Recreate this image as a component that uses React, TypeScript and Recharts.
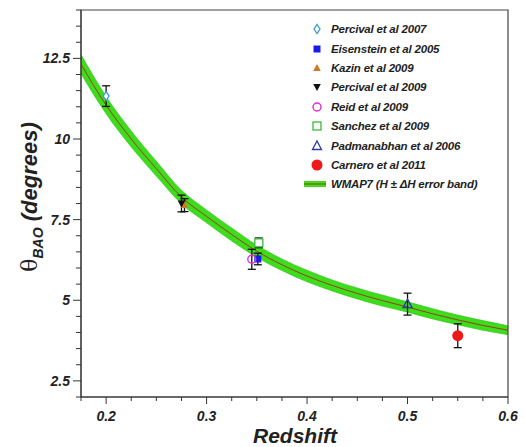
import React from 'react'
import {
  ComposedChart,
  Area,
  Line,
  Scatter,
  ErrorBar,
  XAxis,
  YAxis,
  Legend,
  ReferenceArea,
} from 'recharts'

// WMAP7 theoretical curve
const curveZ = [0.175, 0.2, 0.225, 0.25, 0.275, 0.3, 0.325, 0.35, 0.375, 0.4, 0.425, 0.45, 0.475, 0.5, 0.525, 0.55, 0.575, 0.6]
const curveTheta = [12.32, 11.05, 10.0, 9.08, 8.2, 7.6, 7.04, 6.52, 6.1, 5.75, 5.46, 5.21, 4.99, 4.79, 4.58, 4.39, 4.22, 4.07]
const bandLow = [12.02, 10.78, 9.75, 8.85, 7.99, 7.4, 6.84, 6.33, 5.92, 5.57, 5.29, 5.04, 4.82, 4.63, 4.42, 4.24, 4.07, 3.93]
const bandHigh = [12.62, 11.32, 10.25, 9.31, 8.41, 7.8, 7.24, 6.71, 6.28, 5.93, 5.63, 5.38, 5.16, 4.95, 4.74, 4.54, 4.37, 4.21]

// measurements
const percival07 = [{ z: 0.2, theta: 11.33, err: 0.32 }]
const eisenstein05 = [{ z: 0.351, theta: 6.28, err: 0.18 }]
const kazin09 = [{ z: 0.278, theta: 7.95, err: 0.2 }]
const percival09 = [{ z: 0.275, theta: 8.0, err: 0.26 }]
const reid09 = [{ z: 0.345, theta: 6.27, err: 0.31 }]
const sanchez09 = [{ z: 0.352, theta: 6.78, err: 0.15 }]
const padmanabhan06 = [{ z: 0.5, theta: 4.88, err: 0.34 }]
const carnero11 = [{ z: 0.55, theta: 3.9, err: 0.37 }]

const xTicks = [0.175, 0.2, 0.225, 0.25, 0.275, 0.3, 0.325, 0.35, 0.375, 0.4, 0.425, 0.45, 0.475, 0.5, 0.525, 0.55, 0.575, 0.6]
const yTicks = [2, 2.5, 3, 3.5, 4, 4.5, 5, 5.5, 6, 6.5, 7, 7.5, 8, 8.5, 9, 9.5, 10, 10.5, 11, 11.5, 12, 12.5, 13, 13.5, 14]

const curveRows = curveZ.map((z, i) => ({
  z,
  theta: curveTheta[i],
  band: [bandLow[i], bandHigh[i]],
}))

const FONT = '"Liberation Sans", Arial, sans-serif'
const GREEN = '#3ddc1c'
const RED_LINE = '#9e3c1a'

type Kind = 'diamond-open' | 'square' | 'tri-up' | 'tri-down' | 'circle-open' | 'square-open' | 'tri-open' | 'circle' | 'band'

const series: { name: string; kind: Kind; color: string; data?: any[] }[] = [
  { name: 'Percival et al 2007', kind: 'diamond-open', color: '#3a9bd8', data: percival07 },
  { name: 'Eisenstein et al 2005', kind: 'square', color: '#1a1ae6', data: eisenstein05 },
  { name: 'Kazin et al 2009', kind: 'tri-up', color: '#c97b2a', data: kazin09 },
  { name: 'Percival et al 2009', kind: 'tri-down', color: '#111111', data: percival09 },
  { name: 'Reid et al 2009', kind: 'circle-open', color: '#e02ad8', data: reid09 },
  { name: 'Sanchez et al 2009', kind: 'square-open', color: '#3cb83c', data: sanchez09 },
  { name: 'Padmanabhan et al 2006', kind: 'tri-open', color: '#2a3aa8', data: padmanabhan06 },
  { name: 'Carnero et al 2011', kind: 'circle', color: '#ee1a1a', data: carnero11 },
]

function Marker({ cx, cy, kind, color }: { cx: number; cy: number; kind: Kind; color: string }) {
  switch (kind) {
    case 'diamond-open':
      return <polygon points={`${cx},${cy - 4.5} ${cx + 3},${cy} ${cx},${cy + 4.5} ${cx - 3},${cy}`} fill="#fff" stroke={color} strokeWidth={1.3} />
    case 'square':
      return <rect x={cx - 3.5} y={cy - 3.5} width={7} height={7} fill={color} />
    case 'tri-up':
      return <polygon points={`${cx},${cy - 4} ${cx + 3.8},${cy + 3} ${cx - 3.8},${cy + 3}`} fill={color} />
    case 'tri-down':
      return <polygon points={`${cx},${cy + 4} ${cx + 3.8},${cy - 3} ${cx - 3.8},${cy - 3}`} fill={color} />
    case 'circle-open':
      return <circle cx={cx} cy={cy} r={4} fill="none" stroke={color} strokeWidth={1.4} />
    case 'square-open':
      return <rect x={cx - 4} y={cy - 4} width={8} height={8} fill="#fff" stroke={color} strokeWidth={1.3} />
    case 'tri-open':
      return <polygon points={`${cx},${cy - 5} ${cx + 4.5},${cy + 3.5} ${cx - 4.5},${cy + 3.5}`} fill="none" stroke={color} strokeWidth={1.3} />
    case 'circle':
      return <circle cx={cx} cy={cy} r={5.5} fill={color} />
    default:
      return null
  }
}

function YTick(props: any) {
  const { x, y, payload } = props
  const v = payload.value as number
  const major = Math.abs(v / 2.5 - Math.round(v / 2.5)) < 1e-6
  return (
    <g>
      <line x1={x} x2={x - (major ? 8 : 5)} y1={y} y2={y} stroke="#333" strokeWidth={1} />
      {major && v > 2 && v < 14 && (
        <text x={x - 11} y={y + 5} textAnchor="end" fontFamily={FONT} fontWeight="bold" fontStyle="italic" fontSize={14} fill="#222">
          {String(v)}
        </text>
      )}
    </g>
  )
}

function XTick(props: any) {
  const { x, y, payload } = props
  const v = payload.value as number
  const major = Math.abs(v * 10 - Math.round(v * 10)) < 1e-6
  return (
    <g>
      <line x1={x} x2={x} y1={y} y2={y + (major ? 7 : 4)} stroke="#333" strokeWidth={1} />
      {major && (
        <text x={x} y={y + 24} textAnchor="middle" fontFamily={FONT} fontWeight="bold" fontStyle="italic" fontSize={14} fill="#222">
          {v.toFixed(1)}
        </text>
      )}
    </g>
  )
}

function LegendBox() {
  const rows = [...series.map((s) => ({ name: s.name, kind: s.kind, color: s.color })), { name: 'WMAP7 (H \u00b1 \u0394H error band)', kind: 'band' as Kind, color: GREEN }]
  return (
    <div style={{ fontFamily: FONT, fontWeight: 'bold', fontStyle: 'italic', fontSize: 11.5, color: '#222', letterSpacing: -0.2 }}>
      {rows.map((r) => (
        <div key={r.name} style={{ display: 'flex', alignItems: 'center', height: 19.4 }}>
          <svg width={29} height={14} style={{ flex: 'none' }}>
            {r.kind === 'band' ? (
              <g>
                <line x1={2} x2={24} y1={7} y2={7} stroke={GREEN} strokeWidth={6} />
                <line x1={2} x2={24} y1={7} y2={7} stroke={RED_LINE} strokeWidth={1} />
              </g>
            ) : (
              <Marker cx={15} cy={7} kind={r.kind} color={r.color} />
            )}
          </svg>
          <span style={{ whiteSpace: 'nowrap' }}>{r.name}</span>
        </div>
      ))}
    </div>
  )
}

export default function App() {
  return (
    <div style={{ position: 'absolute', left: 0, top: 0, background: '#fff' }}>
      <ComposedChart width={525} height={447} data={curveRows} margin={{ top: 10, right: 17, left: 0, bottom: 0 }}>
        <XAxis
          dataKey="z"
          type="number"
          domain={[0.175, 0.6]}
          ticks={xTicks}
          interval={0}
          allowDataOverflow
          height={50}
          tickSize={0}
          tickMargin={0}
          tick={<XTick />}
          axisLine={{ stroke: '#333' }}
          label={{
            content: () => (
              <text x={295} y={443} textAnchor="middle" fontFamily={FONT} fontWeight="bold" fontStyle="italic" fontSize={21} fill="#222">
                Redshift
              </text>
            ),
          }}
        />
        <YAxis
          type="number"
          domain={[2, 14]}
          ticks={yTicks}
          interval={0}
          allowDataOverflow
          width={81}
          tickSize={0}
          tickMargin={0}
          tick={<YTick />}
          axisLine={{ stroke: '#333' }}
          label={{
            content: () => (
              <text transform="translate(37,197) rotate(-90)" textAnchor="middle" fill="#222" fontSize={22}>
                <tspan fontFamily='"DejaVu Serif", serif'>θ</tspan>
                <tspan fontFamily={FONT} fontWeight="bold" fontStyle="italic" fontSize={14} dy={6}>BAO</tspan>
                <tspan fontFamily={FONT} fontWeight="bold" fontStyle="italic" dy={-6}> (degrees)</tspan>
              </text>
            ),
          }}
        />
        <Area
          type="monotone"
          dataKey="band"
          stroke="#2fc014"
          strokeWidth={0.6}
          fill={GREEN}
          fillOpacity={1}
          isAnimationActive={false}
          legendType="none"
        />
        <Line type="monotone" dataKey="theta" stroke={RED_LINE} strokeWidth={1} dot={false} isAnimationActive={false} legendType="none" />
        {series.map((s) => (
          <Scatter
            key={s.name}
            name={s.name}
            data={s.data}
            dataKey="theta"
            isAnimationActive={false}
            shape={(p: any) => <Marker cx={p.cx} cy={p.cy} kind={s.kind} color={s.color} />}
          >
            <ErrorBar dataKey="err" direction="y" width={4} stroke="#111" strokeWidth={1.3} />
          </Scatter>
        ))}
        <ReferenceArea x1={0.175} x2={0.6} y1={2} y2={14} fill="none" stroke="#444" strokeWidth={1.2} />
        <Legend
          layout="vertical"
          align="center"
          verticalAlign="middle"
          wrapperStyle={{ top: 19.6, left: 302, width: 220 }}
          content={() => <LegendBox />}
        />
      </ComposedChart>
    </div>
  )
}
